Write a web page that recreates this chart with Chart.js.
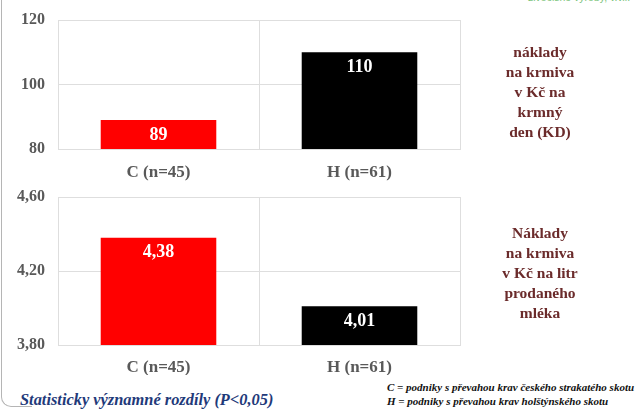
<!DOCTYPE html>
<html>
<head>
<meta charset="utf-8">
<script src="https://cdn.jsdelivr.net/npm/chart.js@4/dist/chart.umd.min.js"></script>
<style>
  html, body { margin: 0; padding: 0; background: #fff; }
  body { width: 635px; height: 409px; position: relative; overflow: hidden; font-family: "Liberation Serif", "Times New Roman", serif; }
  .box { position: absolute; }
  .frame { position: absolute; left: 1px; top: -20px; width: 30px; height: 426px; border-left: 1.5px solid #b5b5b5; border-bottom: 1.5px solid #b5b5b5; border-bottom-left-radius: 10px; }
  .side { position: absolute; width: 160px; text-align: center; color: #6b2b2b; font-weight: bold; font-size: 15.5px; line-height: 20px; }
  .inst { position: absolute; left: 528px; top: -9px; font-family: "Liberation Sans", Arial, sans-serif; font-size: 10.5px; color: #7dc47d; white-space: nowrap; }
  .stat { position: absolute; left: 20px; top: 390px; color: #1f3a7a; font-weight: bold; font-style: italic; font-size: 16.4px; line-height: 20px; white-space: nowrap; }
  .legend { position: absolute; left: 387px; top: 381px; font-weight: bold; font-style: italic; font-size: 11px; line-height: 13.5px; color: #111; white-space: nowrap; }
</style>
</head>
<body>
<div class="frame"></div>
<div class="inst">živočišné výroby, v.v.i.</div>

<div class="box" style="left:0;top:0;width:470px;height:185px;"><canvas id="perDay"></canvas></div>
<div class="box" style="left:0;top:185px;width:470px;height:190px;"><canvas id="perLitre"></canvas></div>

<div class="side" style="left:460px;top:42px;">náklady<br>na krmiva<br>v Kč na<br>krmný<br>den (KD)</div>
<div class="side" style="left:460px;top:223px;">Náklady<br>na krmiva<br>v Kč na litr<br>prodaného<br>mléka</div>

<div class="stat">Statisticky významné rozdíly (P&lt;0,05)</div>
<div class="legend">C = podniky s převahou krav českého strakatého skotu<br>H = podniky s převahou krav holštýnského skotu</div>

<script>
// Breeds compared
const categories = ['C (n=45)', 'H (n=61)'];
// Feed cost in CZK per feeding day
const costPerDay = [89, 110];
// Feed cost in CZK per litre of milk sold
const costPerLitre = [4.38, 4.01];
const barColors = ['#ff0000', '#000000'];

const serif = '"Liberation Serif", "Times New Roman", serif';
const gridColor = '#dedede';
const tickColor = '#595959';

function czNumber(v, digits) {
  return v.toFixed(digits).replace('.', ',');
}

// White value label just under the top of each bar
function valueLabels(digits) {
  return {
    id: 'valueLabels',
    afterDatasetsDraw(chart) {
      const ctx = chart.ctx;
      const meta = chart.getDatasetMeta(0);
      const data = chart.data.datasets[0].data;
      ctx.save();
      ctx.fillStyle = '#ffffff';
      ctx.font = 'bold 18px ' + serif;
      ctx.textAlign = 'center';
      ctx.textBaseline = 'middle';
      meta.data.forEach((bar, i) => {
        ctx.fillText(czNumber(data[i], digits), bar.x, bar.y + 15);
      });
      ctx.restore();
    }
  };
}

function makeChart(id, values, min, max, step, digits, topPad, xHeight, xPad) {
  return new Chart(document.getElementById(id), {
    type: 'bar',
    data: {
      labels: categories,
      datasets: [{
        data: values,
        backgroundColor: barColors,
        borderWidth: 0,
        barPercentage: 0.575,
        categoryPercentage: 1
      }]
    },
    options: {
      responsive: true,
      maintainAspectRatio: false,
      animation: false,
      layout: { padding: { top: topPad, right: 10, left: 0, bottom: 0 } },
      plugins: { legend: { display: false }, tooltip: { enabled: false } },
      scales: {
        x: {
          offset: true,
          grid: { color: gridColor, drawTicks: false, offset: true },
          border: { color: gridColor },
          ticks: { color: tickColor, padding: xPad, font: { family: serif, size: 17, weight: 'bold' } },
          afterFit(scale) { scale.height = xHeight; }
        },
        y: {
          min: min, max: max,
          grid: { color: gridColor, drawTicks: false },
          border: { display: false },
          ticks: {
            stepSize: step,
            color: tickColor,
            padding: 13,
            font: { family: serif, size: 16, weight: 'bold' },
            callback: (v) => czNumber(v, digits)
          },
          afterFit(scale) {
            scale.width = 58;
            // plot edges are set by the layout padding alone
            scale.paddingTop = 0;
            scale.paddingBottom = 0;
          }
        }
      }
    },
    plugins: [valueLabels(digits)]
  });
}

makeChart('perDay', costPerDay, 80, 120, 20, 0, 20, 36, 13);
makeChart('perLitre', costPerLitre, 3.8, 4.6, 0.4, 2, 12, 30, 12);
</script>
</body>
</html>
